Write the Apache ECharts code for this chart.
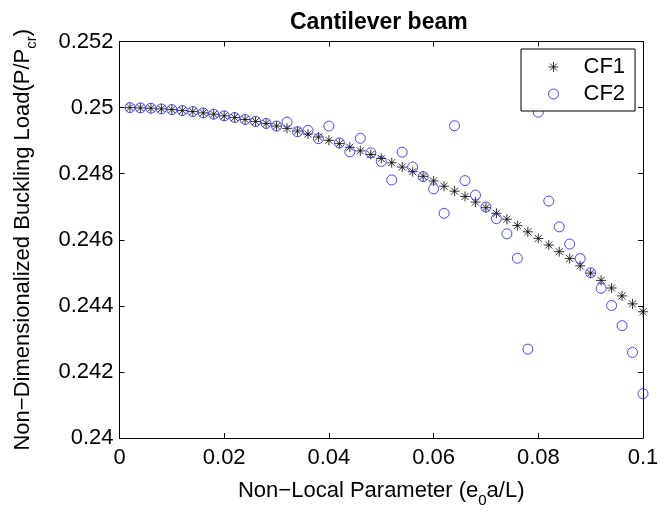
<!DOCTYPE html>
<html>
<head>
<meta charset="utf-8">
<script src="https://cdn.jsdelivr.net/npm/echarts@6/dist/echarts.min.js"></script>
<style>html,body{margin:0;padding:0;background:#fff}#c{width:669px;height:513px}</style>
</head>
<body>
<div id="c"></div>
<script>
var xValues = [0.002,0.004,0.006,0.008,0.010,0.012,0.014,0.016,0.018,0.020,
  0.022,0.024,0.026,0.028,0.030,0.032,0.034,0.036,0.038,0.040,
  0.042,0.044,0.046,0.048,0.050,0.052,0.054,0.056,0.058,0.060,
  0.062,0.064,0.066,0.068,0.070,0.072,0.074,0.076,0.078,0.080,
  0.082,0.084,0.086,0.088,0.090,0.092,0.094,0.096,0.098,0.100];
var cf1 = [0.25000,0.24999,0.24998,0.24996,0.24994,0.24991,0.24988,0.24984,0.24980,0.24975,
  0.24970,0.24964,0.24958,0.24952,0.24944,0.24937,0.24929,0.24920,0.24911,0.24901,
  0.24891,0.24880,0.24869,0.24858,0.24846,0.24833,0.24820,0.24806,0.24792,0.24778,
  0.24762,0.24747,0.24731,0.24714,0.24697,0.24680,0.24662,0.24643,0.24624,0.24604,
  0.24584,0.24564,0.24543,0.24521,0.24499,0.24477,0.24454,0.24430,0.24406,0.24382];
var cf2 = [0.25000,0.24999,0.24998,0.24996,0.24994,0.24991,0.24988,0.24984,0.24980,0.24975,
  0.24970,0.24964,0.24958,0.24952,0.24944,0.24956,0.24927,0.24931,0.24906,0.24944,
  0.24893,0.24866,0.24907,0.24863,0.24837,0.24781,0.24865,0.24820,0.24791,0.24754,
  0.24680,0.24945,0.24779,0.24735,0.24699,0.24664,0.24618,0.24544,0.24269,0.24986,
  0.24717,0.24639,0.24587,0.24543,0.24500,0.24453,0.24401,0.24340,0.24259,0.24134];
var seriesNames = ['CF1', 'CF2'];
var titleText = 'Cantilever beam';

var font = "'Liberation Sans', Arial, Helvetica, sans-serif";
function pairs(xs, ys){ return xs.map(function(x,i){ return [x, ys[i]]; }); }
var starPath = 'path://M5,0L5,10M0,5L10,5M1.5,1.5L8.5,8.5M8.5,1.5L1.5,8.5';

var chart = echarts.init(document.getElementById('c'), null, {renderer:'canvas'});
var axisCommon = {
  axisLine:{show:true, onZero:false, lineStyle:{color:'#000', width:1}},
  axisTick:{show:true, inside:true, length:5, lineStyle:{color:'#000', width:1}},
  splitLine:{show:false}
};
chart.setOption({
  animation:false,
  backgroundColor:'#fff',
  title:{text:titleText, left:285, top:6, textStyle:{fontFamily:font, fontSize:23, fontWeight:'bold', color:'#000'}},
  legend:{
    data:[{name:seriesNames[0], icon:starPath, itemStyle:{color:'rgba(0,0,0,0)', borderColor:'#000', borderWidth:1}},
          {name:seriesNames[1], icon:'circle', itemStyle:{color:'#fff', borderColor:'#1a1aff', borderWidth:1}}],
    orient:'vertical', left:521, top:49,
    itemWidth:50, itemHeight:10, itemGap:5,
    padding:[7,10,6,27],
    borderColor:'#000', borderWidth:1, backgroundColor:'#fff',
    textStyle:{fontFamily:font, fontSize:22, color:'#000'}
  },
  grid:{left:119.5, right:26, top:41.5, bottom:61, containLabel:false},
  xAxis:[
    Object.assign({type:'value', min:0, max:0.1, interval:0.02, position:'bottom',
      name:'Non\u2212Local Parameter (e{s|0}a/L)', nameLocation:'middle', nameGap:36,
      nameTextStyle:{fontFamily:font, fontSize:22, color:'#000', rich:{s:{fontFamily:font, fontSize:15, color:'#000', verticalAlign:'bottom', lineHeight:34}}},
      axisLabel:{fontFamily:font, fontSize:22, color:'#000', margin:9}}, axisCommon),
    Object.assign({type:'value', min:0, max:0.1, interval:0.02, position:'top', axisLabel:{show:false}}, axisCommon)
  ],
  yAxis:[
    Object.assign({type:'value', min:0.24, max:0.252, interval:0.002, position:'left',
      name:'Non\u2212Dimensionalized Buckling Load(P/P{s|cr})', nameLocation:'middle', nameGap:80,
      nameTextStyle:{fontFamily:font, fontSize:22, color:'#000', rich:{s:{fontFamily:font, fontSize:15, color:'#000', verticalAlign:'bottom', lineHeight:34}}},
      axisLabel:{fontFamily:font, fontSize:22, color:'#000', margin:6}}, axisCommon),
    Object.assign({type:'value', min:0.24, max:0.252, interval:0.002, position:'right', axisLabel:{show:false}}, axisCommon)
  ],
  series:[
    {name:seriesNames[0], type:'scatter', data:pairs(xValues, cf1), symbol:starPath, symbolSize:10,
      itemStyle:{color:'rgba(0,0,0,0)', borderColor:'#000', borderWidth:1}, z:2},
    {name:seriesNames[1], type:'scatter', data:pairs(xValues, cf2), symbol:'circle', symbolSize:10,
      itemStyle:{color:'rgba(0,0,0,0)', borderColor:'#1a1aff', borderWidth:1}, z:3}
  ]
});
</script>
</body>
</html>
